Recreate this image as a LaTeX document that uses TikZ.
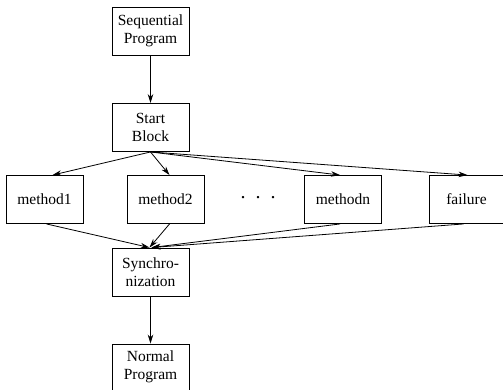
\documentclass[tikz,border=0pt]{standalone}
\usepackage{fontspec}
\setmainfont{Liberation Serif}
\usetikzlibrary{arrows.meta}

\begin{document}
\begin{tikzpicture}[x=1pt,y=-1pt,
    block/.style={draw, line width=0.9pt, align=center, minimum width=77pt, minimum height=48pt,
        inner sep=0pt, font=\fontsize{15.5}{18.5}\selectfont},
    flow/.style={-{Stealth[length=9pt,width=5.5pt]}, line width=0.8pt}]
    \useasboundingbox (0,0) rectangle (503,389);
    \node [block] (seq) at (150.5,31) {Sequential\\Program};
    \node [block] (start) at (150.5,127.5) {Start\\Block};
    \node [block] (m1) at (44.5,199.5) {method1};
    \node [block] (m2) at (165.5,199.5) {method2};
    \node [font=\fontsize{20}{20}\selectfont] (dots) at (258,198) {.\ \ .\ \ .};
    \node [block] (mn) at (343,199.5) {methodn};
    \node [block, minimum width=75pt] (fail) at (466.5,199.5) {failure};
    \node [block] (sync) at (150.5,272) {Synchro-\\nization};
    \node [block, minimum height=46pt] (norm) at (150.5,367) {Normal\\Program};
    \draw [flow] (seq) -- (start);
    \draw [flow] (start.south) -- ([xshift=8pt]m1.north);
    \draw [flow] (start.south) -- ([xshift=4pt]m2.north);
    \draw [flow] (start.south) -- ([xshift=-3pt]mn.north);
    \draw [flow] (start.south) -- ([xshift=1pt]fail.north);
    \draw [flow] ([xshift=2pt]m1.south) -- ([xshift=-1pt]sync.north);
    \draw [flow] ([xshift=4pt]m2.south) -- ([xshift=-1pt]sync.north);
    \draw [flow] ([xshift=-3pt]mn.south) -- ([xshift=1pt]sync.north);
    \draw [flow] ([xshift=-3pt]fail.south) -- ([xshift=1pt]sync.north);
    \draw [flow] (sync) -- (norm);
\end{tikzpicture}
\end{document}
